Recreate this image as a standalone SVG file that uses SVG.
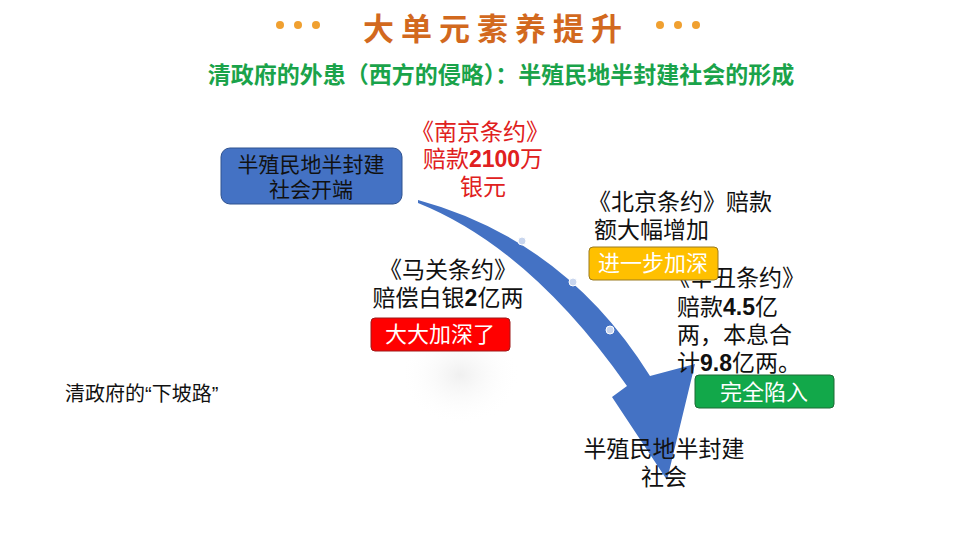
<svg xmlns="http://www.w3.org/2000/svg" width="960" height="540" viewBox="0 0 960 540">
<style>
.t{font-family:"Liberation Sans","Noto Sans CJK SC",sans-serif;}
.k{font-size:23px;fill:#111;}
.b{font-weight:bold;}
.dot{fill:#f0a030;}
</style>
<defs>
<radialGradient id="sh" cx="0.5" cy="0.5" r="0.5"><stop offset="0" stop-color="#f0f0f0"/><stop offset="1" stop-color="#fff" stop-opacity="0"/></radialGradient>
</defs>
<rect width="960" height="540" fill="#fff"/>
<g id="title">
<circle class="dot" cx="280" cy="25" r="4"/><circle class="dot" cx="298" cy="25" r="4"/><circle class="dot" cx="316" cy="25" r="4"/>
<circle class="dot" cx="660" cy="25" r="4"/><circle class="dot" cx="678" cy="25" r="4"/><circle class="dot" cx="696" cy="25" r="4"/>
<text class="t b" x="496" y="40" text-anchor="middle" font-size="31" fill="#d2691e" letter-spacing="7">大单元素养提升</text>
<text class="t b" x="501" y="83" text-anchor="middle" font-size="23" fill="#1aa34a">清政府的外患（西方的侵略）：半殖民地半封建社会的形成</text>
</g>
<ellipse cx="460" cy="375" rx="60" ry="50" fill="url(#sh)"/>
<g id="connectors">
<path d="M418,200 Q565,240 650,376 L695,364 L667,480 L612,397 L627,386 Q530,248 418,203 Z" fill="#4472c4"/>
<circle cx="522" cy="241" r="4" fill="#c9d6ee" stroke="#fff"/>
<circle cx="573" cy="282" r="4" fill="#c9d6ee" stroke="#fff"/>
<circle cx="610" cy="330" r="4" fill="#c9d6ee" stroke="#fff"/>
</g>
<g id="start">
<rect x="221" y="148" width="181" height="56" rx="9" fill="#4472c4" stroke="#2f528f"/>
<text class="t" x="311" y="172" text-anchor="middle" font-size="21" fill="#111">半殖民地半封建</text>
<text class="t" x="311" y="197" text-anchor="middle" font-size="21" fill="#111">社会开端</text>
</g>
<g id="nanjing">
<text class="t" x="480" y="140" text-anchor="middle" font-size="23" fill="#e02020">《南京条约》</text>
<text class="t" x="483" y="167" text-anchor="middle" font-size="23" fill="#e02020">赔款<tspan class="b">2100</tspan>万</text>
<text class="t" x="483" y="195" text-anchor="middle" font-size="23" fill="#e02020">银元</text>
</g>
<g id="maguan">
<text class="t k" x="448" y="278" text-anchor="middle">《马关条约》</text>
<text class="t k" x="448" y="306" text-anchor="middle">赔偿白银<tspan class="b">2</tspan>亿两</text>
<rect x="371" y="318" width="139" height="33" rx="4" fill="#ff0000" stroke="#9e1a1a"/>
<text class="t" x="440" y="342" text-anchor="middle" font-size="22" fill="#fff">大大加深了</text>
</g>
<g id="beijing">
<text class="t k" x="588" y="210">《北京条约》赔款</text>
<text class="t k" x="594" y="238">额大幅增加</text>
</g>
<g id="xinchou">
<text class="t k" x="667" y="286">《辛丑条约》</text>
<text class="t k" x="677" y="315">赔款<tspan class="b">4.5</tspan>亿</text>
<text class="t k" x="677" y="343">两，本息合</text>
<text class="t k" x="677" y="371">计<tspan class="b">9.8</tspan>亿两。</text>
</g>
<g id="jinyibu">
<rect x="589" y="247" width="129" height="33" rx="4" fill="#ffc000" stroke="#9a7a20"/>
<text class="t" x="653" y="271" text-anchor="middle" font-size="22" fill="#fff">进一步加深</text>
</g>
<g id="wanquan">
<rect x="695" y="375" width="139" height="33" rx="4" fill="#12a84a" stroke="#1d6b35"/>
<text class="t" x="764" y="400" text-anchor="middle" font-size="22" fill="#fff">完全陷入</text>
</g>
<g id="end">
<text class="t k" x="664" y="457" text-anchor="middle">半殖民地半封建</text>
<text class="t k" x="664" y="485" text-anchor="middle">社会</text>
</g>
<g id="xiapo">
<text class="t" x="65" y="401" font-size="20" fill="#111">清政府的“下坡路”</text>
</g>
</svg>
